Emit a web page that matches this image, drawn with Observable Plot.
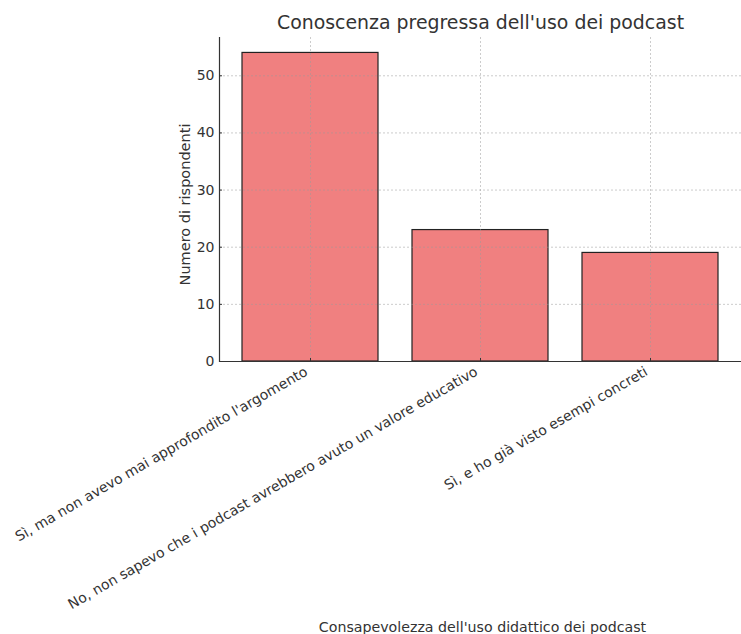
<!DOCTYPE html>
<html><head><meta charset="utf-8">
<script src="https://cdn.jsdelivr.net/npm/d3@7"></script>
<script src="https://cdn.jsdelivr.net/npm/@observablehq/plot@0.6"></script>
<style>body{margin:0;background:#fff}</style>
</head><body><div id="chart"></div>
<script>
const categories = [
  "Sì, ma non avevo mai approfondito l'argomento",
  "No, non sapevo che i podcast avrebbero avuto un valore educativo",
  "Sì, e ho già visto esempi concreti"
];
const counts = [54, 23, 19];
const yTicks = [0, 10, 20, 30, 40, 50];
const title = "Conoscenza pregressa dell'uso dei podcast";
const xLabel = "Consapevolezza dell'uso didattico dei podcast";
const yLabel = "Numero di rispondenti";

const data = categories.map((c, i) => ({category: c, count: counts[i]}));
const textColor = "#333";

const chart = Plot.plot({
  width: 741, height: 634,
  marginTop: 37, marginBottom: 273, marginLeft: 219, marginRight: 0,
  style: {fontFamily: "DejaVu Sans", fontSize: "14px", color: textColor, background: "#fff", overflow: "visible"},
  x: {domain: categories, paddingInner: 0.2, paddingOuter: 0.135, label: null},
  y: {domain: [0, 56.7], label: null},
  marks: [
    Plot.barY(data, {x: "category", y: "count", fill: "#f08080", stroke: "#222", strokeWidth: 1.2}),
    Plot.gridY(yTicks, {stroke: "#999", strokeDasharray: "2,2", strokeOpacity: 0.5}),
    Plot.gridX(categories, {stroke: "#999", strokeDasharray: "2,2", strokeOpacity: 0.5}),
    Plot.axisY(yTicks, {tickSize: 0, tickPadding: 5, label: null, fill: textColor, fontSize: 14}),
    Plot.axisY(yTicks, {tickSize: 3, dx: 3, tickFormat: () => "", label: null, stroke: "#333"}),
    Plot.axisX({tickRotate: -30, tickSize: 0, tickPadding: 10, dx: -4, dy: -1, label: null, fill: textColor, fontSize: 14}),
    Plot.axisX({tickSize: 3, dy: -3, tickFormat: () => "", label: null, stroke: "#333"}),
    Plot.ruleY([0], {stroke: "#333", strokeWidth: 1.2}),
    Plot.frame({anchor: "left", stroke: "#333", strokeWidth: 1.2}),
    Plot.text([title], {frameAnchor: "top", dy: -9, fontSize: 18.9, fill: textColor, lineAnchor: "bottom"}),
    Plot.text([yLabel], {frameAnchor: "left", rotate: -90, dx: -34, dy: 5, textAnchor: "middle", lineAnchor: "middle", fill: textColor, fontSize: 14.5}),
    Plot.text([xLabel], {frameAnchor: "bottom", dy: 266, dx: 2, lineAnchor: "middle", fill: textColor, fontSize: 14.2})
  ]
});
document.getElementById("chart").appendChild(chart);
</script>
</body></html>
